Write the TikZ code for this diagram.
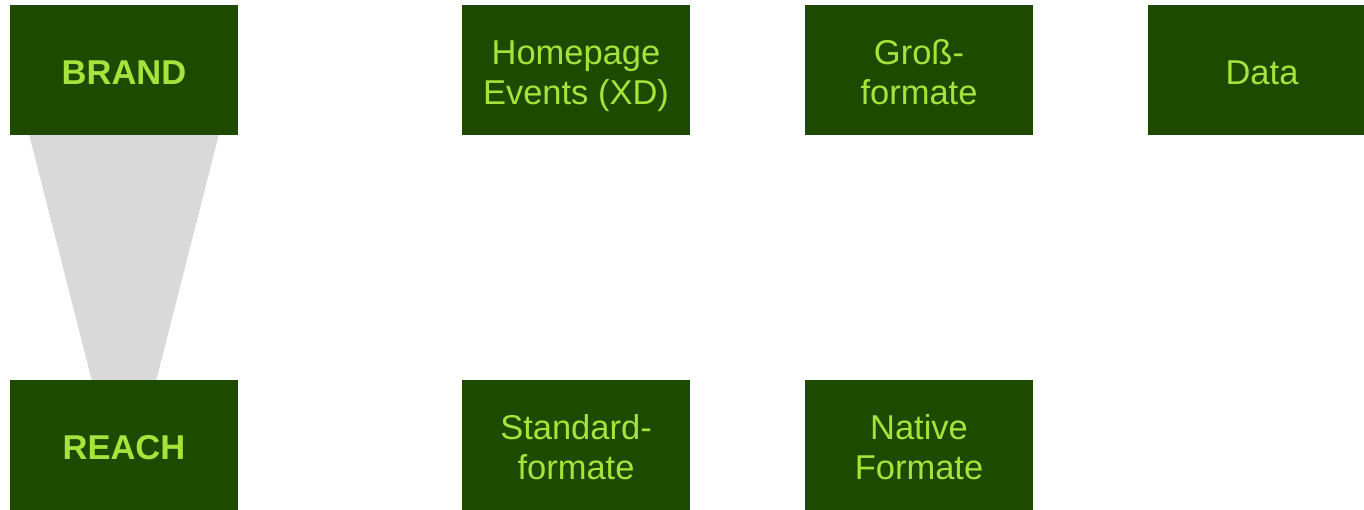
\documentclass[tikz,border=0pt]{standalone}
\usepackage{fontspec}
\setmainfont{Liberation Sans}
\definecolor{boxgreen}{HTML}{1E4A00}
\definecolor{txtgreen}{HTML}{A8E23C}
\definecolor{funnelgray}{HTML}{D9D9D9}
\newcommand\myhs{\rule{0pt}{36pt}}
\newcommand\myds{\rule[-7.4pt]{0pt}{7.4pt}}
\begin{document}
\begin{tikzpicture}[x=1pt,y=-1pt,
  box/.style={fill=boxgreen, draw=none, text=txtgreen, minimum width=228pt, minimum height=130pt,
    inner sep=0pt, align=center, font=\fontsize{34.5}{40}\selectfont},
  boldbox/.style={box, font=\fontsize{34.5}{40}\selectfont\bfseries}]
\useasboundingbox (0,0) rectangle (1364,510);
\clip (0,0) rectangle (1364,510);
\fill[white] (0,0) rectangle (1364,510);
% funnel
\fill[funnelgray] (28,130) -- (220,130) -- (155,385) -- (93,385) -- cycle;
% top row
\node[boldbox] (brand) at (124,70) {\myhs BRAND\myds};
\node[box] (home) at (576,70) {\myhs Homepage\\Events (XD)\myds};
\node[box] (gross) at (919,70) {\myhs Groß-\\formate\myds};
\node[box] (data) at (1262,70) {\myhs Data\myds};
% bottom row
\node[boldbox] (reach) at (124,445) {\myhs REACH\myds};
\node[box] (standard) at (576,445) {\myhs Standard-\\formate\myds};
\node[box] (native) at (919,445) {\myhs Native\\Formate\myds};
\end{tikzpicture}
\end{document}
